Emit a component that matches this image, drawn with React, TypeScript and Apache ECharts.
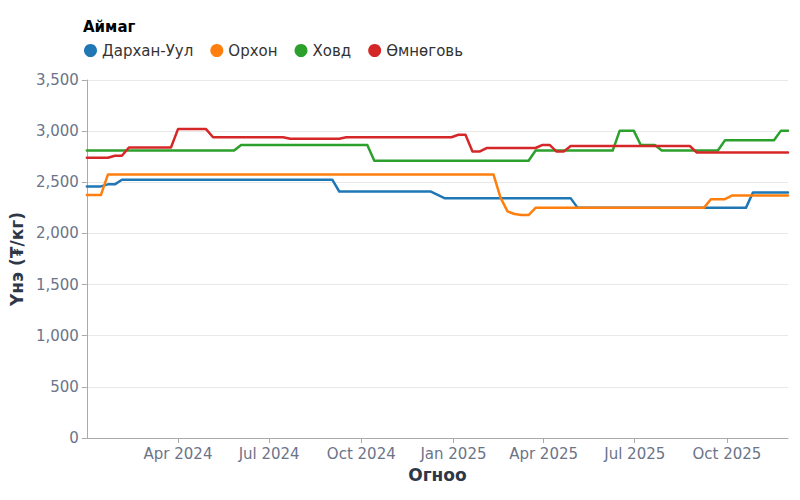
import React, { useEffect, useRef } from "react";
import * as echarts from "echarts";

// weekly prices, only the weeks where the level changes
const seriesNames = ["Дархан-Уул", "Орхон", "Ховд", "Өмнөговь"];
const seriesColors = ["#1f77b4", "#ff7f0e", "#2ca02c", "#d62728"];

const darkhanUul: [string, number][] = [
  ["2024-01-01", 2460], ["2024-01-15", 2460], ["2024-01-22", 2480], ["2024-01-29", 2480],
  ["2024-02-05", 2525], ["2024-09-02", 2525], ["2024-09-09", 2410], ["2024-12-09", 2410],
  ["2024-12-23", 2345], ["2025-04-28", 2345], ["2025-05-05", 2250], ["2025-10-20", 2250],
  ["2025-10-27", 2400], ["2025-12-01", 2400],
];

const orkhon: [string, number][] = [
  ["2024-01-01", 2375], ["2024-01-15", 2375], ["2024-01-22", 2575], ["2025-02-10", 2575],
  ["2025-02-17", 2350], ["2025-02-24", 2215], ["2025-03-03", 2190], ["2025-03-10", 2180],
  ["2025-03-17", 2180], ["2025-03-24", 2250], ["2025-09-08", 2250], ["2025-09-15", 2335],
  ["2025-09-29", 2335], ["2025-10-06", 2370], ["2025-12-01", 2370],
];

const khovd: [string, number][] = [
  ["2024-01-01", 2810], ["2024-05-27", 2810], ["2024-06-03", 2865], ["2024-10-07", 2865],
  ["2024-10-14", 2710], ["2025-03-17", 2710], ["2025-03-24", 2810], ["2025-06-09", 2810],
  ["2025-06-16", 3005], ["2025-06-30", 3005], ["2025-07-07", 2865], ["2025-07-21", 2865],
  ["2025-07-28", 2810], ["2025-09-22", 2810], ["2025-09-29", 2910], ["2025-11-17", 2910],
  ["2025-11-24", 3005], ["2025-12-01", 3005],
];

const umnugovi: [string, number][] = [
  ["2024-01-01", 2740], ["2024-01-22", 2740], ["2024-01-29", 2760], ["2024-02-05", 2760],
  ["2024-02-12", 2840], ["2024-03-25", 2840], ["2024-04-01", 3020], ["2024-04-29", 3020],
  ["2024-05-06", 2940], ["2024-07-15", 2940], ["2024-07-22", 2925], ["2024-09-09", 2925],
  ["2024-09-16", 2940], ["2024-12-30", 2940], ["2025-01-06", 2965], ["2025-01-13", 2965],
  ["2025-01-20", 2800], ["2025-01-27", 2800], ["2025-02-03", 2835], ["2025-03-24", 2835],
  ["2025-03-31", 2865], ["2025-04-07", 2865], ["2025-04-14", 2800], ["2025-04-21", 2800],
  ["2025-04-28", 2855], ["2025-08-25", 2855], ["2025-09-01", 2790], ["2025-12-01", 2790],
];

const seriesData = [darkhanUul, orkhon, khovd, umnugovi];

const quarterTicks = [
  "2024-04-01", "2024-07-01", "2024-10-01", "2025-01-01",
  "2025-04-01", "2025-07-01", "2025-10-01",
];
const monthNames = ["Jan", "Feb", "Mar", "Apr", "May", "Jun", "Jul", "Aug", "Sep", "Oct", "Nov", "Dec"];

const toTime = (s: string) => {
  const [y, m, d] = s.split("-").map(Number);
  return new Date(y, m - 1, d).getTime();
};

const FONT = "DejaVu Sans";

export default function App() {
  const chartRef = useRef<HTMLDivElement>(null);

  useEffect(() => {
    if (!chartRef.current) return;
    const chart = echarts.init(chartRef.current, null, { renderer: "svg" });
    const tickValues = quarterTicks.map(toTime);

    chart.setOption({
      animation: false,
      textStyle: { fontFamily: FONT },
      title: {
        text: "Аймаг",
        left: 78,
        top: 14,
        textStyle: { fontFamily: FONT, fontSize: 15, fontWeight: "bold", color: "#000" },
      },
      legend: {
        left: 79,
        top: 38,
        icon: "circle",
        itemWidth: 13,
        itemHeight: 13,
        itemGap: 17,
        data: seriesNames,
        textStyle: { fontFamily: FONT, fontSize: 15, color: "#333" },
      },
      grid: { left: 84, right: 12, top: 80, bottom: 62 },
      xAxis: {
        type: "value",
        min: toTime("2024-01-01"),
        max: toTime("2025-12-01"),
        name: "Огноо",
        nameLocation: "middle",
        nameGap: 28,
        nameTextStyle: { fontFamily: FONT, fontSize: 17, fontWeight: "bold", color: "#2d3748" },
        axisLine: { show: true, lineStyle: { color: "#aaa" } },
        axisTick: { show: true, length: 5, customValues: tickValues, lineStyle: { color: "#aaa" } },
        axisLabel: {
          customValues: tickValues,
          margin: 8,
          fontSize: 15,
          color: "#6b7489",
          fontFamily: FONT,
          formatter: (v: number) => {
            const d = new Date(v);
            return `${monthNames[d.getMonth()]} ${d.getFullYear()}`;
          },
        },
        splitLine: { show: false },
      },
      yAxis: {
        type: "value",
        min: 0,
        max: 3500,
        interval: 500,
        name: "Үнэ (₮/кг)",
        nameLocation: "middle",
        nameGap: 58,
        nameTextStyle: { fontFamily: FONT, fontSize: 17, fontWeight: "bold", color: "#2d3748" },
        axisLine: { show: true, lineStyle: { color: "#aaa" } },
        axisTick: { show: true, length: 5, lineStyle: { color: "#aaa" } },
        axisLabel: {
          margin: 8,
          fontSize: 15,
          color: "#6b7489",
          fontFamily: FONT,
          formatter: (v: number) => v.toLocaleString("en-US"),
        },
        splitLine: { lineStyle: { color: "#e8e8e8" } },
      },
      series: seriesNames.map((name, i) => ({
        name,
        type: "line",
        showSymbol: false,
        symbol: "circle",
        color: seriesColors[i],
        lineStyle: { width: 2.5, join: "round", cap: "round" },
        data: seriesData[i].map(([d, v]) => [toTime(d), v]),
      })),
    });

    return () => chart.dispose();
  }, []);

  return <div ref={chartRef} style={{ width: 800, height: 500, margin: -8 }} />;
}
